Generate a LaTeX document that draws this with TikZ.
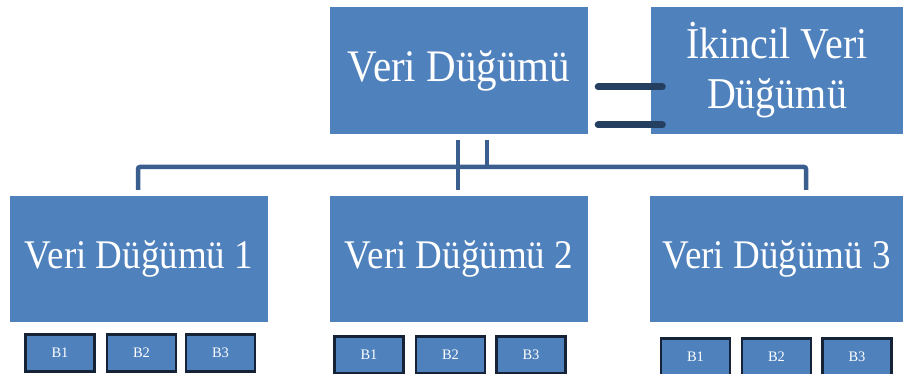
\documentclass[tikz,border=0pt]{standalone}
\usepackage{fontspec}
\usepackage{graphicx}
\setmainfont{Liberation Serif}
\definecolor{boxblue}{RGB}{79,129,189}
\definecolor{connblue}{RGB}{58,94,142}
\definecolor{linkdark}{RGB}{36,63,96}
\definecolor{bborder}{RGB}{22,34,54}
% slightly taller lettering for the big labels
\newcommand{\tall}[1]{\scalebox{1}[1.1]{#1}}
\tikzset{
  bignode/.style={fill=boxblue, text=white, inner sep=0pt, align=center},
  topnode/.style={bignode, minimum height=127pt, font=\fontsize{41}{45}\selectfont},
  childnode/.style={bignode, minimum width=258pt, minimum height=126pt, font=\fontsize{37}{40}\selectfont},
  bbox/.style={fill=boxblue, draw=bborder, line width=2.4pt, text=white, inner sep=0pt,
    minimum width=69pt, minimum height=37pt, font=\fontsize{14.5}{16}\selectfont},
  conn/.style={draw=connblue, line width=4.5pt},
  link/.style={draw=linkdark, line width=7pt, line cap=round}
}
\begin{document}
\begin{tikzpicture}[x=1pt,y=-1pt]
\useasboundingbox (0,0) rectangle (903,374);

% upper level
\node[topnode, minimum width=258pt] (top) at (459,70.5) {\tall{Veri Düğümü}};
\node[topnode, minimum width=253pt, font=\fontsize{40}{45}\selectfont] (sec) at (777,70.5)
  {\tall{İkincil Veri}\\[5pt]\tall{Düğümü}};

% data nodes
\node[childnode] (n1) at (139,259) {\tall{Veri Düğümü 1}};
\node[childnode] (n2) at (459,259) {\tall{Veri Düğümü 2}};
\node[childnode, minimum width=253pt] (n3) at (776.5,259) {\tall{Veri Düğümü 3}};

% blocks under each data node
\node[bbox] (b11) at (60,353) {B1};
\node[bbox] (b12) at (141.5,353) {B2};
\node[bbox] (b13) at (220.5,353) {B3};
\node[bbox] (b21) at (369,355) {B1};
\node[bbox] (b22) at (450.5,355) {B2};
\node[bbox] (b23) at (531,355) {B3};
\node[bbox] (b31) at (695.5,357) {B1};
\node[bbox] (b32) at (776.5,357) {B2};
\node[bbox] (b33) at (857,357) {B3};

% tree connectors
\coordinate (cl) at (458,0);
\coordinate (cr) at (487,0);
\coordinate (busL) at (138,167);
\coordinate (busR) at (806,167);
\draw[conn, shorten <=6pt, shorten >=6pt] (top.south -| cl) -- (n2.north -| cl);
\draw[conn, shorten <=6pt] (top.south -| cr) -- (busL -| cr);
\draw[conn, rounded corners=2pt, shorten <=6pt, shorten >=6pt]
  (n1.north -| busL) -- (busL) -- (busR) -- (n3.north -| busR);

% double link between primary and secondary
\coordinate (l1) at (0,87);
\coordinate (l2) at (0,125);
\draw[link] ([xshift=10pt]top.east |- l1) -- ([xshift=12pt]sec.west |- l1);
\draw[link] ([xshift=10pt]top.east |- l2) -- ([xshift=12pt]sec.west |- l2);
\end{tikzpicture}
\end{document}
